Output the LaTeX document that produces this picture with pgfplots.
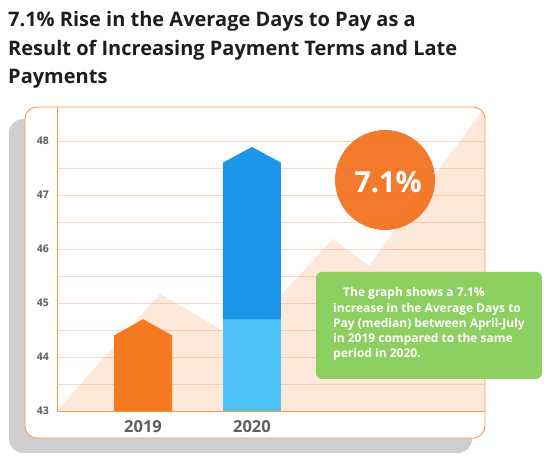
\documentclass[border=0pt]{standalone}
\usepackage{pgfplots}
\pgfplotsset{compat=1.18}
\usepackage{fontspec}
\setmainfont{Open Sans}

\definecolor{titlegray}{HTML}{1E1E1E}
\definecolor{tickgray}{HTML}{5E5E5E}
\definecolor{barorange}{HTML}{F47920}
\definecolor{circleorange}{HTML}{F37321}
\definecolor{lineorange}{HTML}{F79A48}
\definecolor{gridpeach}{HTML}{F9D9C4}
\definecolor{darkblue}{HTML}{1B95E9}
\definecolor{lightblue}{HTML}{4EC2F6}
\definecolor{boxgreen}{HTML}{8DCF60}
\definecolor{shadowgray}{HTML}{CFCFCF}

\begin{document}
\begin{tikzpicture}[x=1bp,y=1bp]
\useasboundingbox (0,0) rectangle (550,462);

% title
\begin{scope}[font=\bfseries\fontsize{20bp}{28bp}\selectfont, text=titlegray]
\node[anchor=base west, inner sep=0] at (8,435) {7.1\% Rise in the Average Days to Pay as a};
\node[anchor=base west, inner sep=0] at (8,406) {Result of Increasing Payment Terms and Late};
\node[anchor=base west, inner sep=0] at (8,378) {Payments};
\end{scope}

% card with shadow
\fill[shadowgray, rounded corners=14bp] (9,9) rectangle (472,343);
\fill[white, rounded corners=12bp] (25,24) rectangle (485,355);

\begin{scope}
\clip[rounded corners=12bp] (25,24) rectangle (485,355);
\begin{axis}[
    at={(57bp,51bp)}, anchor=south west,
    scale only axis, width=428bp, height=304bp,
    xmin=-0.79, xmax=3.14, ymin=43, ymax=48.63,
    axis x line*=bottom, axis y line*=left,
    axis line style={draw=lineorange, line width=0.9pt, -},
    xtick={0,1}, xticklabels={2019,2020},
    ytick={43,44,45,46,47,48},
    minor ytick={43.5,44.5,45.5,46.5,47.5},
    ymajorgrids, yminorgrids,
    major grid style={draw=gridpeach, line width=0.8pt},
    minor grid style={draw=gridpeach, line width=0.8pt},
    major tick length=0pt, minor tick length=0pt,
    /pgf/number format/assume math mode=true,
    yticklabel style={font=\bfseries\fontsize{10.5bp}{12bp}\selectfont, text=tickgray, xshift=-4.5bp},
    xticklabel style={font=\bfseries\fontsize{16.5bp}{18bp}\selectfont, text=tickgray, yshift=-6bp},
]
% background trend area
\addplot[fill=barorange, fill opacity=0.17, draw=none] coordinates {
    (-0.79,43) (0.156,45.17) (0.89,44.3) (1.743,46.19) (2.073,45.69) (3.14,48.63) (3.14,43)
};
% 2019 bar
\addplot[fill=barorange, draw=none] coordinates {
    (-0.266,43) (-0.266,44.4) (0,44.7) (0.266,44.4) (0.266,43)
};
% 2020 bar, lower part
\addplot[fill=lightblue, draw=none] coordinates {
    (0.734,43) (0.734,44.7) (1.266,44.7) (1.266,43)
};
% 2020 bar, upper part
\addplot[fill=darkblue, draw=none] coordinates {
    (0.734,44.7) (0.734,47.6) (1,47.89) (1.266,47.6) (1.266,44.7)
};
\end{axis}
\end{scope}
\draw[lineorange, line width=0.9pt, rounded corners=12bp] (25,24) rectangle (485,355);

% circle badge
\fill[circleorange, opacity=0.95] (385,282) circle (50);
\node[anchor=base, inner sep=0, text=white, font=\bfseries\fontsize{29bp}{34bp}\selectfont] at (388,269) {7.1\%};

% green note
\fill[boxgreen, rounded corners=6bp] (316,83) rectangle (542,190);
\begin{scope}[font=\bfseries\fontsize{12bp}{15bp}\selectfont, text=white]
\node[anchor=base west, inner sep=0] at (343,165) {The graph shows a 7.1\%};
\node[anchor=base west, inner sep=0] at (333,149.75) {increase in the Average Days to};
\node[anchor=base west, inner sep=0] at (333,134.5) {Pay (median) between April-July};
\node[anchor=base west, inner sep=0] at (333,119.25) {in 2019 compared to the same};
\node[anchor=base west, inner sep=0] at (333,104) {period in 2020.};
\end{scope}
\end{tikzpicture}
\end{document}
